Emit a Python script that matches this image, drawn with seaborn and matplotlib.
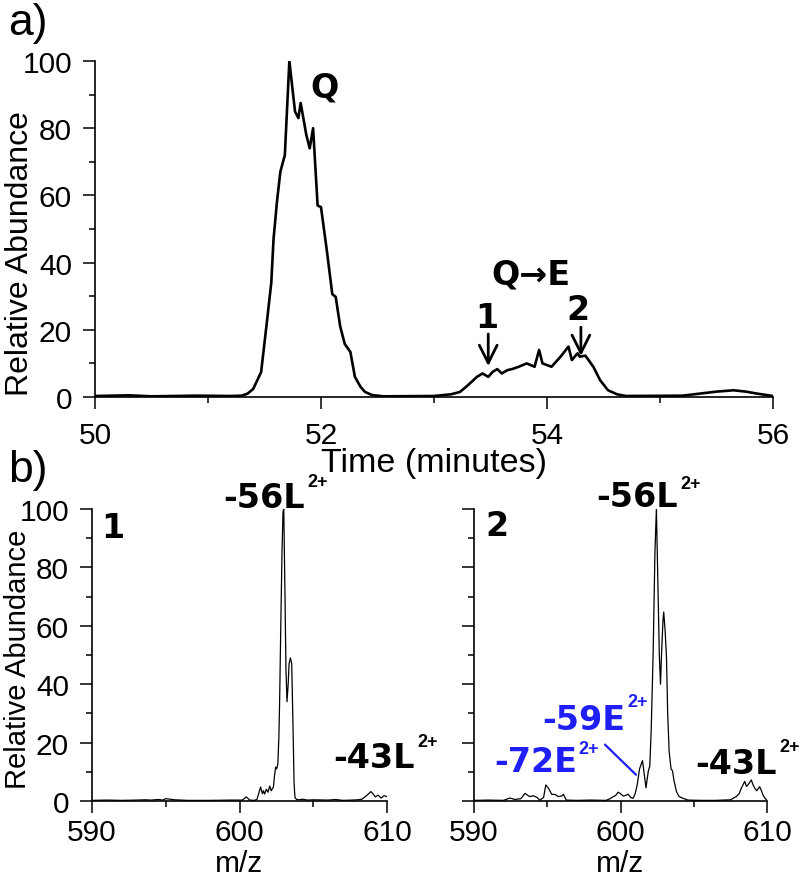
import seaborn as sns
import matplotlib.pyplot as plt
from matplotlib.ticker import MultipleLocator

# a) extracted ion chromatogram
time_min = [50.0, 50.3, 50.5, 50.9, 51.2, 51.3, 51.35, 51.4, 51.47, 51.52, 51.56, 51.58, 51.61,
            51.64, 51.68, 51.72, 51.77, 51.8, 51.82, 51.87, 51.9, 51.93, 51.97, 52.0, 52.05,
            52.1, 52.13, 52.17, 52.21, 52.26, 52.3, 52.35, 52.39, 52.45, 52.55, 53.0, 53.15,
            53.23, 53.3, 53.38, 53.43, 53.48, 53.52, 53.56, 53.6, 53.65, 53.69, 53.75, 53.82,
            53.89, 53.93, 53.96, 54.04, 54.12, 54.19, 54.22, 54.27, 54.29, 54.34, 54.41, 54.47,
            54.54, 54.62, 54.7, 55.2, 55.35, 55.5, 55.65, 55.76, 55.86, 56.0]
rel_abund = [0.3, 0.5, 0.2, 0.4, 0.3, 0.4, 1.0, 2.4, 7.4, 22, 34, 47, 58,
             67, 72, 100, 85, 83, 87.5, 78, 74, 80, 57, 56.5, 44,
             30.6, 29.8, 21, 15.8, 13.4, 6, 3, 1.5, 0.6, 0.2, 0.3, 0.8,
             1.5, 3.5, 6, 7, 6, 7.5, 8.3, 7, 8, 8.3, 9, 10,
             9, 14, 10, 9, 12, 15, 11, 13, 12, 12.3, 9, 5,
             2, 0.8, 0.3, 0.4, 1.0, 1.6, 2.0, 1.6, 1.0, 0.3]

# b) spectrum at point 1
mz_1 = [590.0, 591.0, 592.0, 593.0, 593.6, 594.0, 594.5, 594.8, 595.0, 595.3, 595.6, 596.5,
        598.0, 599.5, 600.2, 600.45, 600.7, 601.0, 601.18, 601.3, 601.43, 601.55, 601.62,
        601.7, 601.82, 601.93, 602.05, 602.15, 602.3, 602.38, 602.45, 602.52, 602.6, 602.67,
        602.72, 602.79, 602.88, 602.95, 603.0, 603.08, 603.15, 603.22, 603.3, 603.36, 603.45,
        603.54, 603.63, 603.7, 603.76, 603.85, 604.0, 604.3, 604.6, 605.0, 606.0, 606.5,
        607.0, 607.6, 608.0, 608.3, 608.5, 608.7, 608.9, 609.05, 609.2, 609.4, 609.6, 609.8,
        610.0]
abund_1 = [0.2, 0.3, 0.2, 0.3, 0.4, 0.3, 0.5, 0.3, 0.8, 0.6, 0.4, 0.2,
           0.2, 0.3, 0.3, 1.4, 0.3, 0.2, 0.5, 2.5, 4.8, 2.5, 3.5,
           2.4, 4.0, 3.0, 5.1, 3.5, 4.8, 9, 11.6, 11, 12.7, 22,
           34, 57, 85, 99, 100, 72, 45, 34, 40, 47, 49,
           47, 25, 6, 1.2, 0.6, 0.4, 0.6, 0.3, 0.4, 0.3, 0.5,
           0.2, 0.3, 0.4, 0.6, 1.4, 2.2, 3.2, 2.5, 1.4, 2.0, 1.0, 1.8,
           1.5]

# b) spectrum at point 2
mz_2 = [590.0, 591.0, 592.0, 592.45, 592.8, 593.2, 593.48, 593.65, 593.8, 594.05, 594.3,
        594.5, 594.75, 594.9, 595.1, 595.3, 595.55, 595.75, 596.0, 596.1, 596.3, 597.0,
        598.0, 599.0, 599.3, 599.5, 599.65, 599.84, 600.0, 600.18, 600.35, 600.52, 600.7,
        600.86, 601.0, 601.14, 601.3, 601.5, 601.6, 601.74, 601.9, 602.0, 602.1, 602.23,
        602.35, 602.45, 602.55, 602.65, 602.73, 602.8, 602.9, 602.95, 603.05, 603.14,
        603.22, 603.32, 603.45, 603.55, 603.65, 603.82, 604.0, 604.27, 604.6, 605.5, 606.5,
        607.5, 607.9, 608.1, 608.25, 608.48, 608.6, 608.7, 608.93, 609.05, 609.16, 609.3,
        609.5, 609.62, 609.73, 609.85, 610.0]
abund_2 = [0.2, 0.3, 0.2, 1.0, 0.5, 0.8, 2.6, 2.0, 1.5, 1.8, 1.2,
           0.3, 1.2, 5.5, 4.2, 2.3, 2.2, 1.5, 1.7, 2.3, 0.3, 0.2,
           0.3, 0.2, 0.8, 1.5, 1.8, 3.0, 2.5, 1.7, 1.9, 2.3, 1.2,
           0.9, 2.5, 5.5, 11, 13.8, 10, 4.5, 10.3, 12, 25, 51,
           85, 100, 75, 50, 40, 50, 62, 64.7, 58, 49,
           30, 17, 11, 10.3, 7, 3.2, 1.5, 0.9, 0.3, 0.2, 0.2,
           0.4, 1.5, 2.5, 4.4, 6.7, 5.0, 5.5, 7.2, 5.5, 4.4, 3.5,
           4.9, 3.5, 2.0, 1.0, 0.3]

sns.set_theme(style='ticks')
plt.rcParams['font.family'] = ['Liberation Sans', 'DejaVu Sans']
plt.rcParams.update({'axes.linewidth': 1.2, 'text.color': 'black',
                     'axes.labelcolor': 'black', 'xtick.color': 'black',
                     'ytick.color': 'black', 'axes.edgecolor': 'black'})

BOLD = dict(family=['DejaVu Sans'], fontweight='bold', fontsize=24)
SUP = dict(family=['Liberation Sans'], fontweight='bold', fontsize=13)
BLUE = '#1e1ef5'

fig = plt.figure(figsize=(8, 8.78), dpi=100)
ax_a = fig.add_axes([0.11875, 0.5467, 0.8475, 0.3827])
ax_b1 = fig.add_axes([0.115, 0.0866, 0.36875, 0.3326])
ax_b2 = fig.add_axes([0.5925, 0.0866, 0.36625, 0.3326])


def style_axis(ax, xmin, xmax, xmajor, ylabel, fs_tick, fs_label, xpad):
    sns.despine(ax=ax)
    ax.set_xlim(xmin, xmax)
    ax.set_ylim(0, 100)
    ax.xaxis.set_major_locator(MultipleLocator(xmajor))
    ax.xaxis.set_minor_locator(MultipleLocator(xmajor / 2))
    ax.yaxis.set_major_locator(MultipleLocator(20))
    ax.yaxis.set_minor_locator(MultipleLocator(10))
    ax.tick_params(which='major', length=8.6, width=1.1, labelsize=fs_tick)
    ax.tick_params(which='minor', length=4.5, width=1.1)
    ax.tick_params(axis='y', pad=8)
    ax.tick_params(axis='x', pad=xpad)
    ax.set_ylabel(ylabel, fontsize=fs_label)


# panel a
sns.lineplot(x=time_min, y=rel_abund, ax=ax_a, color='black', linewidth=1.9,
             estimator=None, sort=False)
style_axis(ax_a, 50, 56, 2, 'Relative Abundance', 21.5, 23, 9)
ax_a.set_xlabel('Time (minutes)', fontsize=24.5, labelpad=-2)
ax_a.yaxis.set_label_coords(-0.088, 0.43)

ax_a.text(52.035, 92.3, 'Q', ha='center', va='center', **BOLD)
ax_a.text(53.86, 36.6, 'Q→E', ha='center', va='center', **BOLD)
ax_a.text(53.47, 23.8, '1', ha='center', va='center', **BOLD)
ax_a.text(54.27, 25.9, '2', ha='center', va='center', **BOLD)
arrow = dict(arrowstyle='->', lw=2, color='black', mutation_scale=32,
             shrinkA=0, shrinkB=0)
ax_a.annotate('', xy=(53.48, 9.2), xytext=(53.48, 18.75), arrowprops=arrow)
ax_a.annotate('', xy=(54.30, 12.2), xytext=(54.30, 20.8), arrowprops=arrow)

# panel b, spectrum 1
sns.lineplot(x=mz_1, y=abund_1, ax=ax_b1, color='black', linewidth=0.9,
             estimator=None, sort=False)
style_axis(ax_b1, 590, 610, 10, 'Relative Abundance', 21.5, 21, 3.5)
ax_b1.set_xlabel('m/z', fontsize=21.5, labelpad=2)
ax_b1.yaxis.set_label_coords(-0.203, 0.49)

ax_b1.text(604.44, 100.7, '-56L', ha='right', va='baseline', clip_on=False, **BOLD)
ax_b1.text(604.58, 107.9, '2+', ha='left', va='baseline', clip_on=False, **SUP)
ax_b1.text(591.42, 93.8, '1', ha='center', va='center', **BOLD)
ax_b1.text(611.9, 11.6, '-43L', ha='right', va='baseline', clip_on=False, **BOLD)
ax_b1.text(612.03, 18.8, '2+', ha='left', va='baseline', clip_on=False, **SUP)

# panel b, spectrum 2
sns.lineplot(x=mz_2, y=abund_2, ax=ax_b2, color='black', linewidth=0.9,
             estimator=None, sort=False)
style_axis(ax_b2, 590, 610, 10, '', 21.5, 21, 3.5)
ax_b2.set_xlabel('m/z', fontsize=21.5, labelpad=2)
ax_b2.tick_params(axis='y', labelleft=False)

ax_b2.text(603.93, 101, '-56L', ha='right', va='baseline', clip_on=False, **BOLD)
ax_b2.text(604.06, 107.2, '2+', ha='left', va='baseline', clip_on=False, **SUP)
ax_b2.text(591.57, 94.5, '2', ha='center', va='center', **BOLD)
ax_b2.text(610.68, 9.7, '-43L', ha='right', va='baseline', clip_on=False, **BOLD)
ax_b2.text(610.82, 17.2, '2+', ha='left', va='baseline', clip_on=False, **SUP)
ax_b2.text(600.31, 24.6, '-59E', ha='right', va='baseline', color=BLUE, **BOLD)
ax_b2.text(600.44, 32.4, '2+', ha='left', va='baseline', color=BLUE, **SUP)
ax_b2.text(597.03, 10.3, '-72E', ha='right', va='baseline', color=BLUE, **BOLD)
ax_b2.text(597.1, 16.4, '2+', ha='left', va='baseline', color=BLUE, **SUP)
ax_b2.annotate('', xy=(601.06, 8.97), xytext=(598.94, 19.3),
               arrowprops=dict(arrowstyle='-', lw=1.6, color=BLUE, shrinkA=0, shrinkB=0))

fig.text(8 / 800, 1 - 35 / 878, 'a)', fontsize=32, ha='left', va='baseline')
fig.text(8 / 800, 1 - 482 / 878, 'b)', fontsize=32, ha='left', va='baseline')

fig.savefig('out.png', dpi=100)
